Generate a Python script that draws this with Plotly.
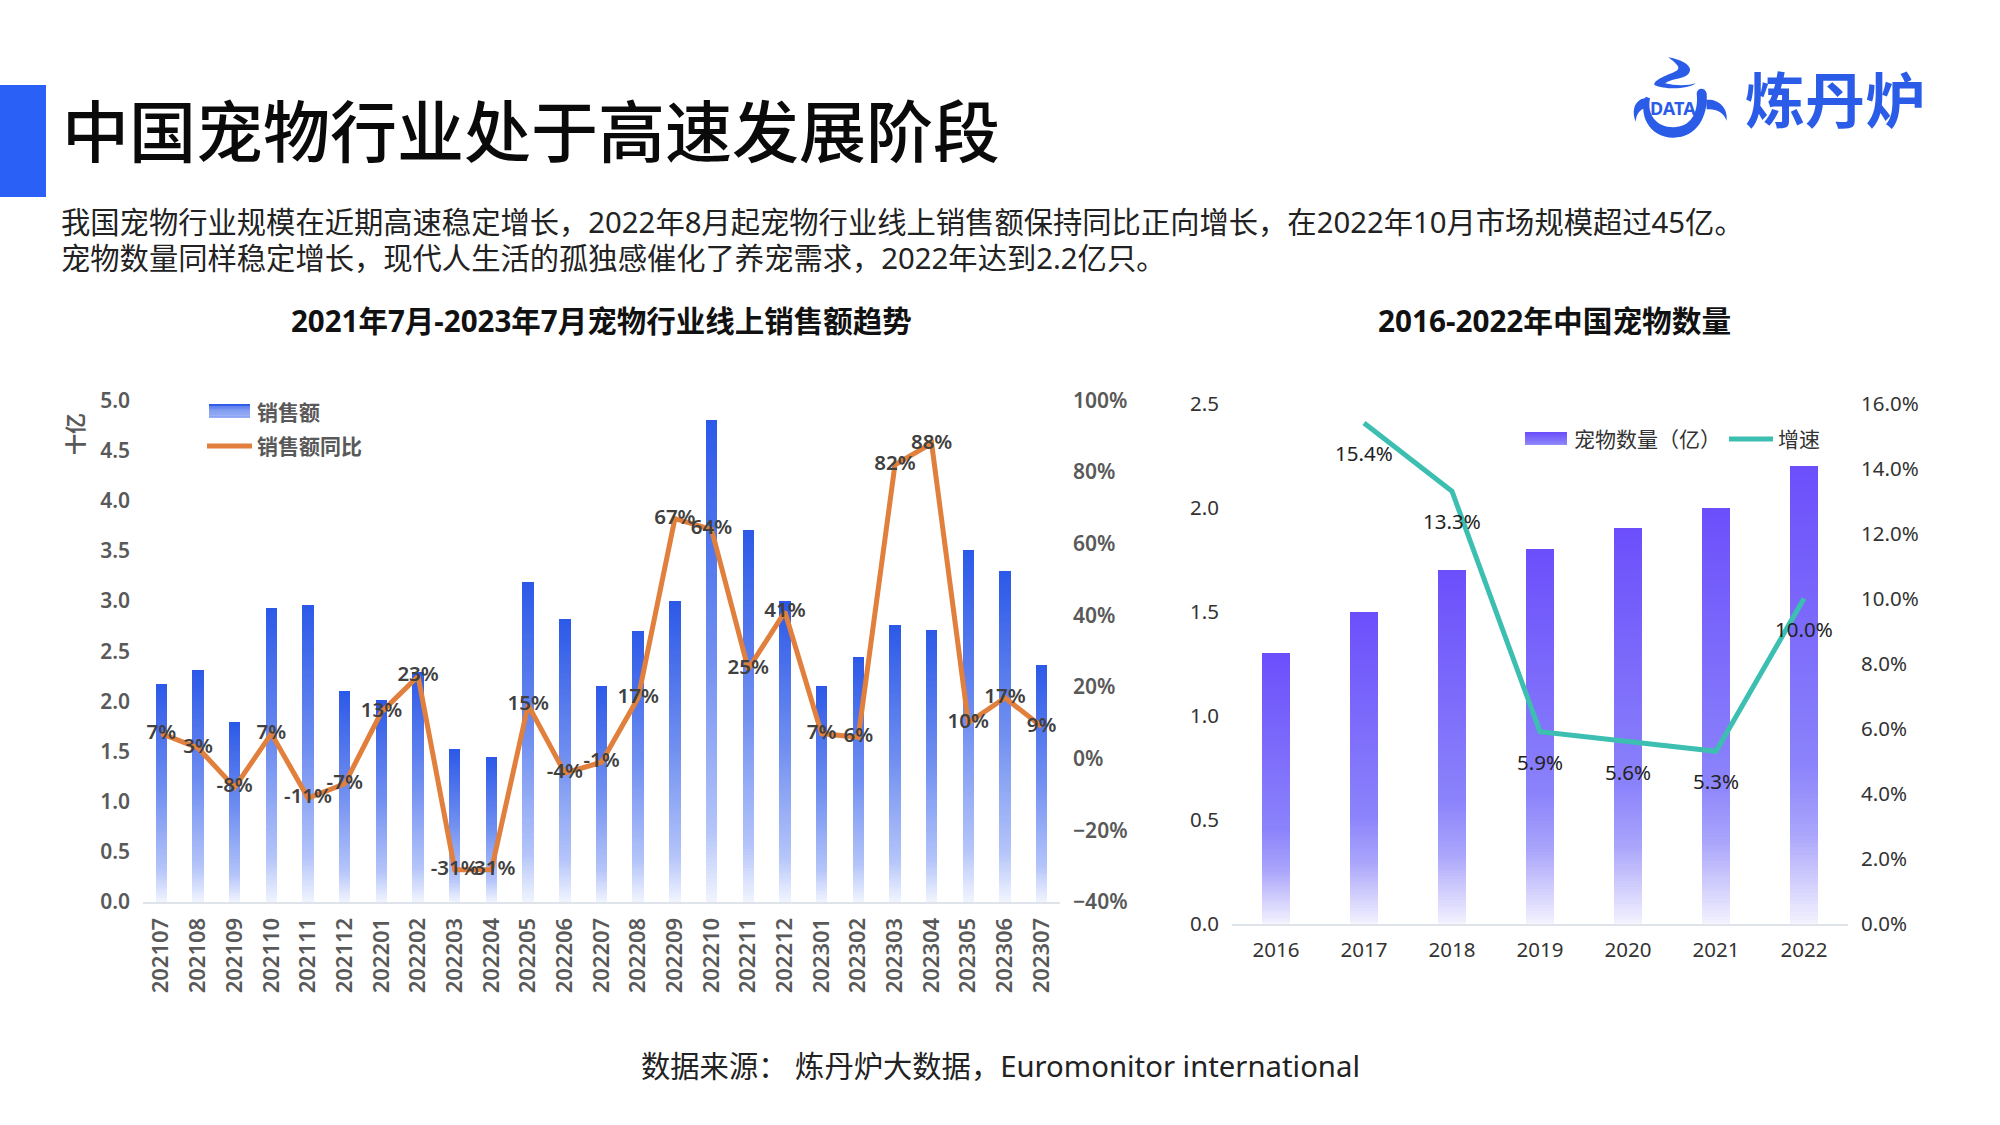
import re

# Graphs
import plotly.graph_objects as go
import numpy as np

months = ['202107', '202108', '202109', '202110', '202111', '202112', '202201', '202202', '202203',
          '202204', '202205', '202206', '202207', '202208', '202209', '202210', '202211', '202212',
          '202301', '202302', '202303', '202304', '202305', '202306', '202307']
sales = [2.17, 2.31, 1.79, 2.93, 2.96, 2.10, 2.01, 2.29, 1.52, 1.44, 3.19, 2.82, 2.15, 2.70, 3.00,
         4.80, 3.71, 3.00, 2.15, 2.44, 2.76, 2.71, 3.51, 3.30, 2.36]
sales_yoy = [7, 3, -8, 7, -11, -7, 13, 23, -31, -31, 15, -4, -1, 17, 67, 64, 25, 41, 7, 6, 82, 88, 10, 17, 9]

years = ['2016', '2017', '2018', '2019', '2020', '2021', '2022']
pets = [1.3, 1.5, 1.7, 1.8, 1.9, 2.0, 2.2]
pets_growth = [None, 15.4, 13.3, 5.9, 5.6, 5.3, 10.0]

FONT = 'Noto Sans, Noto Sans CJK SC'
W, H = 2000, 1125
BLUE_STOPS = [(0, '#f2f5ff'), (0.15, '#b5c5fa'), (0.5, '#7391f1'), (1, '#2c59e8')]
PURPLE_STOPS = [(0, '#f3f2ff'), (0.2, '#a9a4fb'), (0.35, '#8b83fb'), (1, '#6c4ffb')]
STEPS = 120


def hex_rgb(color):
    return np.array([int(color[i:i + 2], 16) for i in (1, 3, 5)])


def ramp(stops, t):
    pos = [s[0] for s in stops]
    rgb = np.array([hex_rgb(s[1]) for s in stops])
    parts = [np.interp(t, pos, rgb[:, k]) for k in range(3)]
    return 'rgb(%d,%d,%d)' % tuple(parts)


def gradient_bars(x, y, stops, xaxis, yaxis):
    # no gradient on plotly bars, so every bar is a stack of thin slices
    slices = []
    for i in range(STEPS):
        slices.append(go.Bar(x=x, y=[v / STEPS for v in y],
                             marker=dict(color=ramp(stops, (i + 0.5) / STEPS), line_width=0),
                             xaxis=xaxis, yaxis=yaxis, hoverinfo='skip', showlegend=False))
    return slices


def px(x, y):
    return x / W, 1 - y / H


def text_at(x, y, text, size, color='#222222', anchor='center', weight=400, angle=0):
    xp, yp = px(x, y)
    return dict(x=xp, y=yp, xref='paper', yref='paper', text=text, showarrow=False, xanchor=anchor,
                yanchor='middle', textangle=angle, font=dict(family=FONT, size=size, color=color, weight=weight))


def box(x0, y0, x1, y1, color):
    xa, ya = px(x0, y0)
    xb, yb = px(x1, y1)
    return dict(type='rect', xref='paper', yref='paper', x0=xa, y0=ya, x1=xb, y1=yb,
                fillcolor=color, line_width=0, layer='above')


def dash(x0, x1, y, color):
    xa, ya = px(x0, y)
    xb, _ = px(x1, y)
    return dict(type='line', xref='paper', yref='paper', x0=xa, y0=ya, x1=xb, y1=ya,
                line=dict(color=color, width=5), layer='above')


def swatch(x0, y0, x1, y1, stops):
    # legend key with the same fade as the bars
    rows = 13
    out = []
    for i in range(rows):
        top = y0 + (y1 - y0) * i / rows
        low = y0 + (y1 - y0) * (i + 1) / rows
        out.append(box(x0, top, x1, low, ramp(stops, 1 - 0.75 * i / rows)))
    return out


def logo_path(path):
    # path is written in pixels of the logo crop, 3 times its real size
    def move(m):
        xp, yp = px(1625 + int(m.group(1)) / 3, 50 + int(m.group(2)) / 3)
        return '%.5f,%.5f' % (xp, yp)
    return dict(type='path', xref='paper', yref='paper', path=re.sub(r'(\d+),(\d+)', move, path),
                fillcolor='#2b5ce8', line_width=0, layer='above')


data = []
data += gradient_bars(months, sales, BLUE_STOPS, 'x', 'y')
data.append(go.Scatter(x=months, y=sales_yoy, mode='lines+text', xaxis='x', yaxis='y2',
                       text=['%d%%' % v for v in sales_yoy], textposition='middle center',
                       textfont=dict(family=FONT, size=20.5, color='#404040', weight=600),
                       line=dict(color='#e17f3d', width=5), hoverinfo='skip', showlegend=False))
data += gradient_bars(years, pets, PURPLE_STOPS, 'x2', 'y3')
data.append(go.Scatter(x=years, y=pets_growth, mode='lines', xaxis='x2', yaxis='y4',
                       line=dict(color='#3cbfb0', width=5), hoverinfo='skip', showlegend=False))

fig = go.Figure(data=data)

axis_line = dict(showline=True, linecolor='#dfe3ea', linewidth=2, ticks='', showgrid=False, zeroline=False)
grey_ticks = dict(family=FONT, size=21, color='#595959', weight=600)
dark_ticks = dict(family=FONT, size=20.5, color='#333333')

notes = [
    text_at(60, 131, '中国宠物行业处于高速发展阶段', 67, '#0a0a0a', 'left', 500),
    text_at(59, 222, '我国宠物行业规模在近期高速稳定增长，2022年8月起宠物行业线上销售额保持同比正向增长，在2022年10月市场规模超过45亿。', 29.3, '#222222', 'left'),
    text_at(59, 258, '宠物数量同样稳定增长，现代人生活的孤独感催化了养宠需求，2022年达到2.2亿只。', 29.3, '#222222', 'left'),
    text_at(601, 320, '2021年7月-2023年7月宠物行业线上销售额趋势', 29.5, '#111111', 'center', 700),
    text_at(1554, 320, '2016-2022年中国宠物数量', 29.7, '#111111', 'center', 700),
    text_at(1001, 1066, '数据来源： 炼丹炉大数据，Euromonitor international', 29.3, '#222222'),
    text_at(75, 434, '十亿', 21, '#595959', 'center', 600, -90),
    text_at(254.5, 412, '销售额', 21, '#595959', 'left', 700),
    text_at(254.5, 446, '销售额同比', 21, '#595959', 'left', 700),
    text_at(1572, 439, '宠物数量（亿）', 21, '#333333', 'left'),
    text_at(1776, 439, '增速', 21, '#333333', 'left'),
    text_at(1835, 100, '炼丹炉', 60, '#2b5ce8', 'center', 700),
    text_at(1673, 108, 'DATA', 18, '#2b5ce8', 'center', 700),
]

# growth labels sit under their points
for i, value in enumerate(pets_growth):
    if value is None:
        continue
    notes.append(dict(x=i, y=value, xref='x2', yref='y4', text='%.1f%%' % value, showarrow=False, yshift=-30,
                      font=dict(family=FONT, size=20.5, color='#222222')))

shapes = [box(0, 85, 46, 197, '#2b60f7')]
shapes += swatch(209, 404, 250, 418, BLUE_STOPS)
shapes.append(dash(207, 252, 446, '#e17f3d'))
shapes += swatch(1525, 432, 1567, 445, PURPLE_STOPS)
shapes.append(dash(1729, 1773, 439, '#3cbfb0'))
shapes += [
    logo_path('M130,22 C170,28 210,50 190,72 C175,88 140,85 120,100 C150,108 190,108 212,100 C190,118 120,120 88,105 C85,88 130,75 155,62 C170,52 150,38 130,22 Z'),
    logo_path('M62,140 C40,190 70,262 145,263 C215,263 250,200 245,130 C240,112 218,112 215,130 C222,190 195,232 145,232 C95,232 65,195 75,145 Z'),
    logo_path('M62,145 C40,145 15,170 32,215 C35,190 45,178 62,175 Z'),
    logo_path('M243,150 C275,145 310,170 305,212 C295,185 270,175 245,178 Z'),
]

fig.update_layout(
    width=W, height=H, margin=dict(l=0, r=0, t=0, b=0, autoexpand=False), paper_bgcolor='white', plot_bgcolor='white',
    barmode='stack', bargap=0.69, showlegend=False, annotations=notes, shapes=shapes,
    xaxis=dict(domain=[143 / W, 1060 / W], anchor='y', type='category', range=[-0.5, 24.5], tickangle=-90,
               tickfont=dict(grey_ticks, size=22), ticklabelstandoff=5, **axis_line),
    yaxis=dict(domain=[1 - 902 / H, 1 - 400.4 / H], anchor='x', range=[0, 5], dtick=0.5, tickformat='.1f',
               tickfont=grey_ticks, ticklabelstandoff=12, showgrid=False, zeroline=False),
    yaxis2=dict(overlaying='y', anchor='x', side='right', range=[-40, 100], dtick=20, ticksuffix='%',
                tickfont=grey_ticks, ticklabelstandoff=12, showgrid=False, zeroline=False),
    xaxis2=dict(domain=[1232 / W, 1848 / W], anchor='y3', type='category', range=[-0.5, 6.5], tickfont=dark_ticks,
                ticklabelstandoff=7, **axis_line),
    yaxis3=dict(domain=[1 - 923.5 / H, 1 - 403.5 / H], anchor='x2', range=[0, 2.5], dtick=0.5, tickformat='.1f',
                tickfont=dark_ticks, ticklabelstandoff=12, showgrid=False, zeroline=False),
    yaxis4=dict(overlaying='y3', anchor='x2', side='right', range=[0, 16], dtick=2, tickformat='.1f', ticksuffix='%',
                tickfont=dark_ticks, ticklabelstandoff=12, showgrid=False, zeroline=False),
)

fig.write_html("out.html", config={'displayModeBar': False}, post_script="document.body.style.margin='0';")
